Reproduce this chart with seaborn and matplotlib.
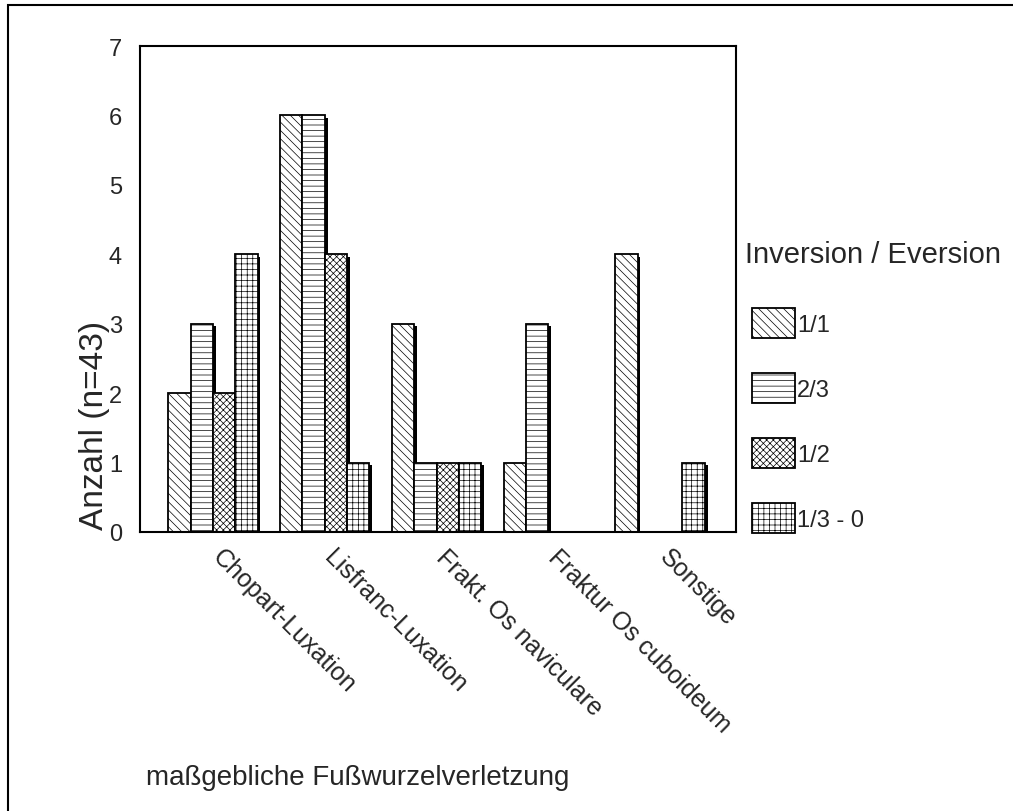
import pandas as pd
import seaborn as sns
import matplotlib.pyplot as plt
from matplotlib.patches import Patch, Rectangle
from matplotlib.transforms import ScaledTranslation
import matplotlib.patheffects as pe

# data
kategorien = ["Chopart-Luxation", "Lisfranc-Luxation", "Frakt. Os naviculare",
              "Fraktur Os cuboideum", "Sonstige"]
gruppen = ["1/1", "2/3", "1/2", "1/3 - 0"]
werte_1_1 = [2, 6, 3, 1, 4]
werte_2_3 = [3, 6, 1, 3, 0]
werte_1_2 = [2, 4, 1, 0, 0]
werte_1_3 = [4, 1, 1, 0, 1]
schraffur = ["\\\\\\\\", "---", "xxxxx", "+++"]

rows = []
for g, vals in zip(gruppen, [werte_1_1, werte_2_3, werte_1_2, werte_1_3]):
    for k, v in zip(kategorien, vals):
        rows.append({"Verletzung": k, "Gruppe": g, "Anzahl": v})
df = pd.DataFrame(rows)

sns.set_style("white")
plt.rcParams["font.family"] = ["Liberation Sans", "DejaVu Sans"]
plt.rcParams["hatch.linewidth"] = 0.5
plt.rcParams["hatch.color"] = "#444444"

fig = plt.figure(figsize=(10.13, 8.12), dpi=100)
ax = fig.add_axes([0.1382, 0.3436, 0.7266 - 0.1382, 0.9421 - 0.3436])

sns.barplot(data=df, x="Verletzung", y="Anzahl", hue="Gruppe",
            order=kategorien, hue_order=gruppen,
            palette=["white"] * 4, edgecolor="black", linewidth=1.3,
            width=0.8, saturation=1, legend=False, ax=ax)

shadow = [pe.SimplePatchShadow(offset=(2, -2), shadow_rgbFace="black", alpha=1), pe.Normal()]
for cont, h in zip(ax.containers, schraffur):
    for bar in cont:
        bar.set_hatch(h)
        bar.set_path_effects(shadow)

ax.set_xlim(-0.653, 4.68)
ax.set_ylim(0, 7)
ax.set_yticks(range(8))
for s in ax.spines.values():
    s.set_linewidth(1.5)
    s.set_color("black")
ax.tick_params(axis="both", direction="out", length=3, width=3.5, color="black")
ax.tick_params(axis="y", labelsize=17, pad=10)
ax.set_xticks(range(len(kategorien)))
ax.set_xticklabels(kategorien, rotation=-45, ha="left", va="top",
                   rotation_mode="anchor", fontsize=18)
ax.tick_params(axis="x", pad=6)
shift = ScaledTranslation(12 / 100, 0, fig.dpi_scale_trans)
for lab in ax.get_xticklabels():
    lab.set_transform(lab.get_transform() + shift)

ax.set_xlabel("")
ax.set_ylabel("Anzahl (n=43)", fontsize=24, va="center")
ax.yaxis.set_label_coords(-0.0755, 0.222)

fig.text(146 / 1013, 1 - 778 / 812, "maßgebliche Fußwurzelverletzung",
         fontsize=20, ha="left", va="center")

# legend
fig.text(745 / 1013, 1 - 263 / 812, "Inversion / Eversion",
         fontsize=21, ha="left", va="baseline")
handles = [Patch(facecolor="white", edgecolor="black", hatch=h, linewidth=1.3)
           for h in schraffur]
leg = fig.legend(handles, gruppen,
                 loc="upper left", bbox_to_anchor=(752 / 1013, 1 - 309 / 812),
                 frameon=False, fontsize=17,
                 handlelength=1.82, handleheight=1.58, handletextpad=0.1,
                 labelspacing=1.48, borderpad=0, borderaxespad=0)

fig.add_artist(Rectangle((8 / 1013, -0.1), 1.2, 1 - 6 / 812 + 0.1,
                         transform=fig.transFigure, fill=False,
                         edgecolor="black", linewidth=1.5))

fig.savefig("out.png", dpi=100)
